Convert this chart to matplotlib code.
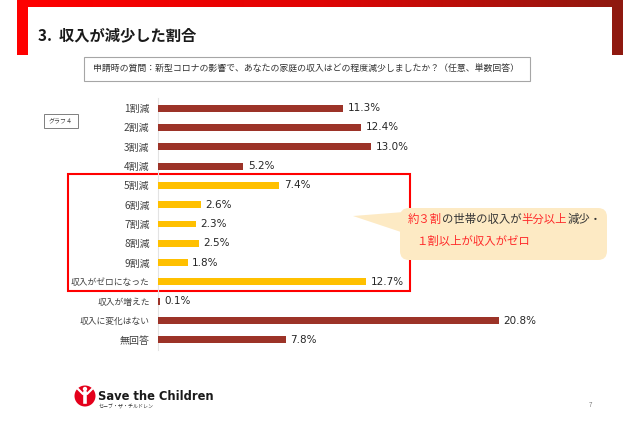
# -*- coding: utf-8 -*-
import numpy as np
import matplotlib
matplotlib.use("Agg")
import matplotlib.pyplot as plt
from matplotlib.colors import LinearSegmentedColormap
from matplotlib.patches import Rectangle, FancyBboxPatch, Polygon, Circle

plt.rcParams['font.family'] = ['Noto Sans CJK JP', 'DejaVu Sans']

# --------------------
# データ
# --------------------
categories = ['1割減', '2割減', '3割減', '4割減', '5割減', '6割減', '7割減',
              '8割減', '9割減', '収入がゼロになった', '収入が増えた',
              '収入に変化はない', '無回答']
values = [11.3, 12.4, 13.0, 5.2, 7.4, 2.6, 2.3, 2.5, 1.8, 12.7, 0.1, 20.8, 7.8]
# 強調する項目（5割減〜収入がゼロ）
highlight = [False, False, False, False, True, True, True, True, True, True,
             False, False, False]

title_text = '3.  収入が減少した割合'
question_text = '申請時の質問：新型コロナの影響で、あなたの家庭の収入はどの程度減少しましたか？（任意、単数回答）'
callout_line1 = [('約３割', 'red'), ('の世帯の収入が', 'dark'), ('半分以上', 'red'), ('減少・', 'dark')]
callout_line2 = [('１割以上が収入がゼロ', 'red')]

dark_red = '#9C3328'
yellow = '#FFC000'
txt_red = '#FF2A2A'
txt_dark = '#333333'

W, H = 640, 426
fig = plt.figure(figsize=(W / 100, H / 100), dpi=100)

# 背景用の軸（ピクセル座標）
bg = fig.add_axes([0, 0, 1, 1])
bg.set_xlim(0, W)
bg.set_ylim(H, 0)
bg.axis('off')

# 上部の赤いグラデーション枠
cmap = LinearSegmentedColormap.from_list('frame', ['#FF0000', '#E00404', '#8E1A10'])
grad = np.linspace(0, 1, 256).reshape(1, -1)
bg.imshow(grad, cmap=cmap, extent=[17, 623, 55, 0], aspect='auto', zorder=1)
bg.add_patch(Rectangle((28, 7), 584, 49, facecolor='white', edgecolor='none', zorder=2))
bg.set_xlim(0, W)
bg.set_ylim(H, 0)

# タイトル
bg.text(38, 35, title_text, fontsize=11, fontweight='bold', color='#1A1A1A',
        va='center', ha='left', zorder=3)

# 質問の枠
bg.add_patch(Rectangle((84, 57), 446, 24, facecolor='white', edgecolor='#A6A6A6',
                       linewidth=0.8, zorder=3))
bg.text(93, 69.5, question_text, fontsize=6.4, color='#333333', va='center', ha='left', zorder=4)

# グラフ番号
bg.add_patch(Rectangle((44, 114), 34, 14, facecolor='white', edgecolor='#7F7F7F',
                       linewidth=0.7, zorder=3))
bg.text(61, 121, 'グラフ４', fontsize=4.3, color='#404040', va='center', ha='center', zorder=4)

# 強調枠
bg.add_patch(Rectangle((68, 174), 342, 117, facecolor='none', edgecolor='#FF0000',
                       linewidth=1.5, zorder=3))

# 吹き出し
bubble = '#FDEAC4'
bg.add_patch(Polygon([(353, 216), (404, 212), (404, 233)], closed=True,
                     facecolor=bubble, edgecolor='none', zorder=4))
bg.add_patch(FancyBboxPatch((400, 208), 207, 52,
                            boxstyle='round,pad=0,rounding_size=9',
                            facecolor=bubble, edgecolor='none', zorder=4))

# ロゴ
bg.add_patch(Circle((85, 396), 10.5, facecolor='#E4001B', edgecolor='none', zorder=3))
bg.plot([78, 83, 85, 87, 92], [389, 394, 392, 394, 389], color='white', lw=1.6, zorder=4)
bg.plot([85, 85], [393, 402], color='white', lw=2.6, zorder=4)
bg.add_patch(Circle((85, 389), 2.2, facecolor='white', edgecolor='none', zorder=4))
bg.text(98, 396, 'Save the Children', fontsize=8.3, fontweight='bold', color='#1A1A1A',
        family='DejaVu Sans', va='center', ha='left', zorder=3)
bg.text(99, 406.5, 'セーブ・ザ・チルドレン', fontsize=3.6, color='#333333',
        va='center', ha='left', zorder=3)
bg.text(590, 405, '7', fontsize=4.5, color='#7F7F7F', va='center', ha='center', zorder=3)

# --------------------
# 棒グラフ
# --------------------
x0, x1 = 158, 158 + 28 * 16.4
y_top, y_bot = 98.4, 349.6
ax = fig.add_axes([x0 / W, 1 - y_bot / H, (x1 - x0) / W, (y_bot - y_top) / H])
ax.patch.set_alpha(0)

n = len(categories)
pos = np.arange(n)
colors = [yellow if h else dark_red for h in highlight]
ax.barh(pos, values, height=0.36, color=colors, zorder=3)
for p, v in zip(pos, values):
    ax.text(v + 0.28, p, f'{v:.1f}%', fontsize=7.5, color='#262626',
            family='DejaVu Sans', va='center', ha='left')

ax.set_xlim(0, 28)
ax.set_ylim(n - 0.5, -0.5)
ax.set_xticks([])
ax.set_yticks(pos)
ax.set_yticklabels(categories, color='#404040')
for lab, c in zip(ax.get_yticklabels(), categories):
    lab.set_fontsize(6.3 if len(c) > 5 else 7.2)
ax.tick_params(axis='y', length=0, pad=6)
for s in ['top', 'right', 'bottom']:
    ax.spines[s].set_visible(False)
ax.spines['left'].set_color('#E3E3E3')
ax.spines['left'].set_linewidth(0.8)

# 吹き出しの文字（色分け）
fig.canvas.draw()
renderer = fig.canvas.get_renderer()
inv = bg.transData.inverted()


def draw_segments(segments, x, y):
    for s, c in segments:
        t = bg.text(x, y, s, fontsize=8.2, color=txt_red if c == 'red' else txt_dark,
                    va='center', ha='left', zorder=5)
        bb = t.get_window_extent(renderer)
        x = inv.transform((bb.x1, bb.y0))[0]


draw_segments(callout_line1, 408, 219)
draw_segments(callout_line2, 416, 241)

fig.savefig('out.png', dpi=100)
